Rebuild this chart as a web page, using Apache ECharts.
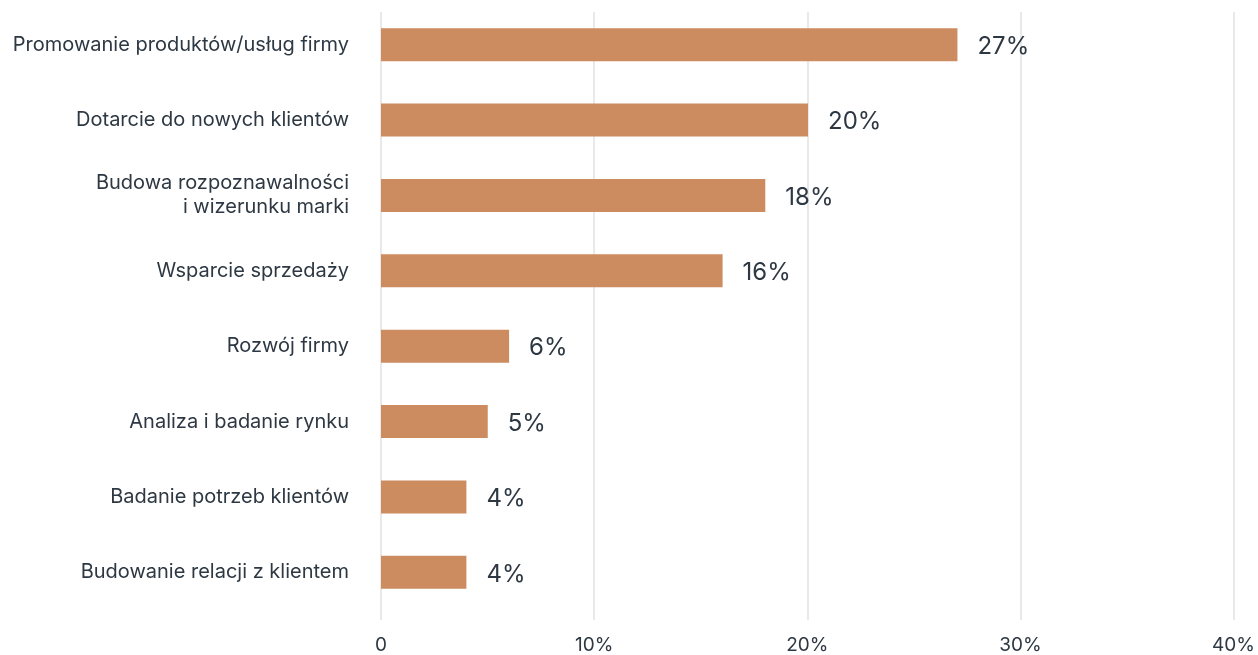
<!DOCTYPE html>
<html>
<head>
<meta charset="utf-8">
<script src="https://cdn.jsdelivr.net/npm/echarts@6/dist/echarts.min.js"></script>
<style>
  html, body { margin: 0; padding: 0; background: #ffffff; }
  #chart { width: 1258px; height: 655px; }
</style>
</head>
<body>
<div id="chart"></div>
<script>
// Cele działań – odsetek wskazań
const categories = [
  'Promowanie produktów/usług firmy',
  'Dotarcie do nowych klientów',
  'Budowa rozpoznawalności\ni wizerunku marki',
  'Wsparcie sprzedaży',
  'Rozwój firmy',
  'Analiza i badanie rynku',
  'Badanie potrzeb klientów',
  'Budowanie relacji z klientem'
];
const values = [27, 20, 18, 16, 6, 5, 4, 4];
const xTicks = [0, 10, 20, 30, 40];

const FONT = 'Inter, "Noto Sans", sans-serif';
const TEXT = '#2d3843';
const BAR = '#cd8c5f';
const GRIDLINE = '#e2e2e2';

const chart = echarts.init(document.getElementById('chart'), null, { renderer: 'canvas' });

chart.setOption({
  animation: false,
  backgroundColor: '#ffffff',
  grid: [
    // bars
    { left: 381, right: 23, top: 7, height: 603 },
    // vertical gridlines + tick labels
    { left: 381, right: 23, top: 12, height: 608 }
  ],
  xAxis: [
    {
      gridIndex: 0, type: 'value', min: xTicks[0], max: xTicks[xTicks.length - 1], interval: 10,
      axisLine: { show: false }, axisTick: { show: false },
      axisLabel: { show: false }, splitLine: { show: false }
    },
    {
      gridIndex: 1, type: 'value', min: xTicks[0], max: xTicks[xTicks.length - 1], interval: 10,
      axisLine: { show: false }, axisTick: { show: false },
      axisLabel: {
        margin: 16, fontFamily: FONT, fontSize: 19, color: TEXT,
        formatter: v => (v === 0 ? '0' : v + '%')
      },
      splitLine: { show: true, lineStyle: { color: GRIDLINE, width: 1.5 } }
    }
  ],
  yAxis: [
    {
      gridIndex: 0, type: 'category', data: categories, inverse: true,
      axisLine: { show: false }, axisTick: { show: false },
      axisLabel: {
        margin: 32, fontFamily: FONT, fontSize: 20, color: TEXT,
        lineHeight: 24, align: 'right', padding: [3, 0, 0, 0]
      }
    },
    {
      gridIndex: 1, type: 'category', data: categories, show: false
    }
  ],
  series: [
    {
      type: 'bar',
      xAxisIndex: 0, yAxisIndex: 0,
      data: values,
      barWidth: 33,
      itemStyle: { color: BAR },
      label: {
        show: true, position: 'right', distance: 20, offset: [0, 2],
        fontFamily: FONT, fontSize: 24, color: TEXT,
        formatter: p => p.value + '%'
      },
      z: 3
    }
  ]
});
</script>
</body>
</html>
